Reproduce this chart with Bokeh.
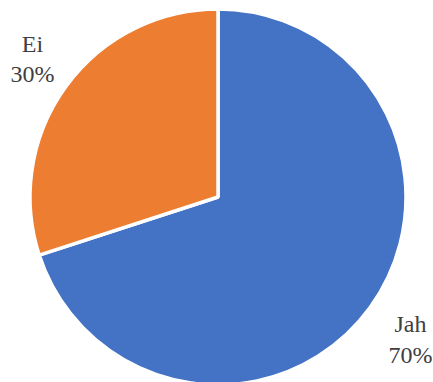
import math
from bokeh.plotting import figure
from bokeh.models import Range1d, ColumnDataSource
from bokeh.core.properties import value
from bokeh.embed import file_html
from bokeh.resources import INLINE

# Data
categories = ["Jah", "Ei"]
values = [70, 30]
colors = ["#4472C4", "#ED7D31"]
pct_labels = ["70%", "30%"]

W, H = 433, 382
# data coordinates == page pixel coords (x), y measured upward from page bottom
p = figure(width=W, height=H, output_backend="svg", toolbar_location=None,
           x_range=Range1d(0, W), y_range=Range1d(0, H),
           min_border=0, outline_line_color=None)
p.axis.visible = False
p.grid.visible = False
p.background_fill_color = "white"
p.border_fill_color = "white"

cx, cy, r = 217.5, H - 196.5, 188

total = sum(values)
starts, ends = [], []
cum = 0.0
for v in values:
    starts.append(math.pi / 2 - cum / total * 2 * math.pi)
    cum += v
    ends.append(math.pi / 2 - cum / total * 2 * math.pi)

src = ColumnDataSource(dict(x=[cx] * len(values), y=[cy] * len(values),
                            start=starts, end=ends, color=colors))
p.wedge(x="x", y="y", radius=r, start_angle="start", end_angle="end",
        direction="clock", fill_color="color", line_color="white",
        line_width=3.5, source=src)

# label positions (page pixels, vertical centres)
label_x = [410, 32]
name_y = [323, 43]
pct_y = [354, 73]

font = value("Liberation Serif")
p.text(x=label_x, y=[H - yy for yy in name_y], text=categories,
       text_font=font, text_font_size="24px",
       text_color="#404040", text_align="center", text_baseline="middle")
p.text(x=label_x, y=[H - yy for yy in pct_y], text=pct_labels,
       text_font=font, text_font_size="24px",
       text_color="#404040", text_align="center", text_baseline="middle")

open("out.html", "w").write(file_html(p, INLINE))
